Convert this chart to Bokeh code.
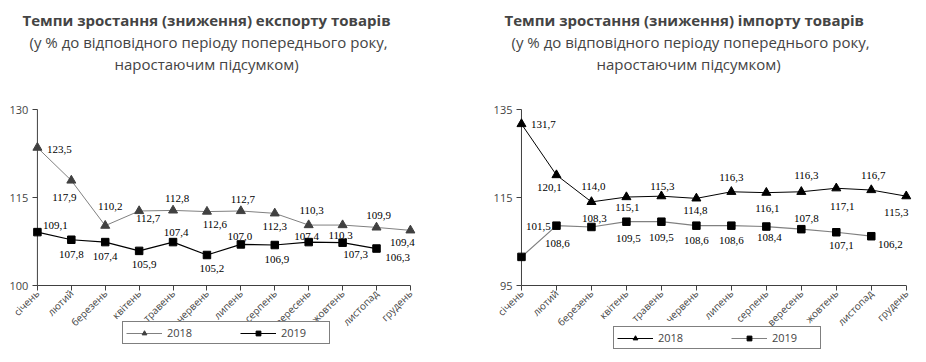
import math
from bokeh.plotting import figure
from bokeh.models import (Range1d, FixedTicker, Title, Legend, LegendItem,
                          ColumnDataSource, LabelSet)
from bokeh.layouts import row
from bokeh.embed import file_html
from bokeh.resources import INLINE

MONTHS = ["січень", "лютий", "березень", "квітень", "травень", "червень",
          "липень", "серпень", "вересень", "жовтень", "листопад", "грудень"]

EXPORT_2018 = [123.5, 117.9, 110.2, 112.7, 112.8, 112.6, 112.7, 112.3, 110.3, 110.3, 109.9, 109.4]
EXPORT_2019 = [109.1, 107.8, 107.4, 105.9, 107.4, 105.2, 107.0, 106.9, 107.4, 107.3, 106.3]
IMPORT_2018 = [131.7, 120.1, 114.0, 115.1, 115.3, 114.8, 116.3, 116.1, 116.3, 117.1, 116.7, 115.3]
IMPORT_2019 = [101.5, 108.6, 108.3, 109.5, 109.5, 108.6, 108.6, 108.4, 107.8, 107.1, 106.2]

EXPORT_TICKS = [100, 115, 130]
IMPORT_TICKS = [95, 115, 135]

TITLE_EXPORT = "Темпи зростання (зниження) експорту товарів"
TITLE_IMPORT = "Темпи зростання (зниження) імпорту товарів"
SUB1 = "(у % до відповідного періоду попереднього року,"
SUB2 = "наростаючим підсумком)"

# label placement (pixel offsets: dx right, dy down) -- styling only
EXP18_OFF = [(22, 2), (-7, 17), (5, -19), (9, 8), (4, -12), (8, 13), (2, -11), (0, 13), (3, -15), (-2, 10), (2, -12), (-8, 12)]
EXP19_OFF = [(18, -7), (0, 15), (0, 14), (5, 14), (3, -10), (5, 14), (-1, -8), (2, 14), (-2, -6), (13, 12), (21, 9)]
IMP18_OFF = [(22, 0), (-7, 12), (2, -15), (1, 10), (1, -10), (-1, 12), (0, -14), (1, 16), (5, -16), (6, 18), (2, -15), (-10, 16)]
IMP19_OFF = [(17, -30), (1, 18), (3, -8), (2, 17), (0, 16), (0, 15), (0, 15), (3, 11), (5, -11), (5, 13), (19, 8)]

FONT = "Open Sans"
AX = "#404040"
PAD_L = 1.0       # room left of the first category (y labels, first month label)
PAD_R = 0.15      # room right of the last category
PLOT_H = 176      # pixel height of the value band (lo..hi)
EXTRA_H = 66      # room below the value band for month labels and legend
TOP_H = 8         # room above the value band for the top tick label


def fmt(v):
    return ("%.1f" % v).replace(".", ",")


def make_chart(title, lo, hi, ticks, s18, s19, off18, off19, c18, c19, mk18c,
               frame_w, bl, br, bt, title_offs, leg_loc):
    n = len(MONTHS) - 1
    unit = (hi - lo) / PLOT_H
    y_start = lo - EXTRA_H * unit
    y_end = hi + TOP_H * unit
    p = figure(frame_width=frame_w, frame_height=PLOT_H + EXTRA_H + TOP_H,
               output_backend="svg", toolbar_location=None,
               min_border_left=bl, min_border_right=br,
               min_border_top=bt, min_border_bottom=0,
               x_range=Range1d(-PAD_L, n + PAD_R), y_range=Range1d(y_start, y_end))
    p.outline_line_color = None
    p.xgrid.visible = False
    p.ygrid.visible = False
    p.background_fill_color = "white"
    p.border_fill_color = "white"

    src18 = ColumnDataSource(dict(x=list(range(len(s18))), y=s18,
                                  t=[fmt(v) for v in s18],
                                  dx=[o[0] for o in off18],
                                  dy=[-o[1] for o in off18]))
    src19 = ColumnDataSource(dict(x=list(range(len(s19))), y=s19,
                                  t=[fmt(v) for v in s19],
                                  dx=[o[0] for o in off19],
                                  dy=[-o[1] for o in off19]))

    # axis lines limited to the value band / category span
    p.segment(x0=[0, 0], y0=[lo, lo], x1=[0, n], y1=[hi, lo],
              line_color=AX, line_width=1)

    l18 = p.line("x", "y", source=src18, line_color=c18, line_width=1)
    m18 = p.scatter("x", "y", source=src18, marker="triangle", size=9,
                    fill_color=mk18c, line_color=mk18c)
    l19 = p.line("x", "y", source=src19, line_color=c19, line_width=1.2)
    m19 = p.scatter("x", "y", source=src19, marker="square", size=7.5,
                    fill_color="black", line_color="black")

    for src in (src18, src19):
        p.add_layout(LabelSet(x="x", y="y", text="t", source=src,
                              x_offset="dx", y_offset="dy",
                              text_align="center", text_baseline="middle",
                              text_font=FONT, text_font_size="11px",
                              text_color="black"))

    xa = p.xaxis[0]
    xa.fixed_location = lo
    xa.ticker = FixedTicker(ticks=list(range(len(MONTHS))))
    xa.major_label_overrides = {i: m for i, m in enumerate(MONTHS)}
    xa.major_label_orientation = math.pi / 4
    xa.major_label_text_font = FONT
    xa.major_label_text_font_size = "10px"
    xa.major_label_standoff = 1
    xa.minor_tick_line_color = None
    xa.major_tick_out = 5
    xa.major_tick_in = 0
    xa.axis_line_color = None
    xa.major_tick_line_color = AX

    ya = p.yaxis[0]
    ya.fixed_location = 0
    ya.ticker = FixedTicker(ticks=ticks)
    ya.major_label_text_font = FONT
    ya.major_label_text_font_size = "11px"
    ya.major_label_standoff = 4
    ya.minor_tick_line_color = None
    ya.major_tick_out = 5
    ya.major_tick_in = 0
    ya.axis_line_color = None
    ya.major_tick_line_color = AX

    legend = Legend(items=[LegendItem(label="2018", renderers=[l18, m18]),
                           LegendItem(label="2019", renderers=[l19, m19])],
                    orientation="horizontal", location=leg_loc,
                    border_line_color="black", border_line_width=1,
                    background_fill_color="white", background_fill_alpha=1,
                    glyph_width=36, glyph_height=12, label_height=12,
                    label_width=45, label_standoff=5, spacing=28, padding=3,
                    label_text_font=FONT, label_text_font_size="11px",
                    margin=0)
    p.add_layout(legend, "center")

    p.add_layout(Title(text=" ", text_font_size="10px", standoff=15), "above")
    for (txt, bold), off in zip(((SUB2, False), (SUB1, False), (title, True)), title_offs):
        p.add_layout(Title(text=txt, align="left", offset=off,
                           text_font=FONT, text_font_size="15px",
                           text_font_style="bold" if bold else "normal",
                           text_line_height=0.85, standoff=0), "above")
    return p


p1 = make_chart(TITLE_EXPORT, 100, 130, EXPORT_TICKS, EXPORT_2018, EXPORT_2019,
                EXP18_OFF, EXP19_OFF, "#808080", "black", "#404040",
                412, 3, 20, 101, (111, 26, 19), (119, 7))
p2 = make_chart(TITLE_IMPORT, 95, 135, IMPORT_TICKS, IMPORT_2018, IMPORT_2019,
                IMP18_OFF, IMP19_OFF, "black", "#808080", "black",
                425, 51, 5, 101, (110, 25, 18), (127, 2))

layout = row(p1, p2)
open("out.html", "w").write(file_html(layout, INLINE))
